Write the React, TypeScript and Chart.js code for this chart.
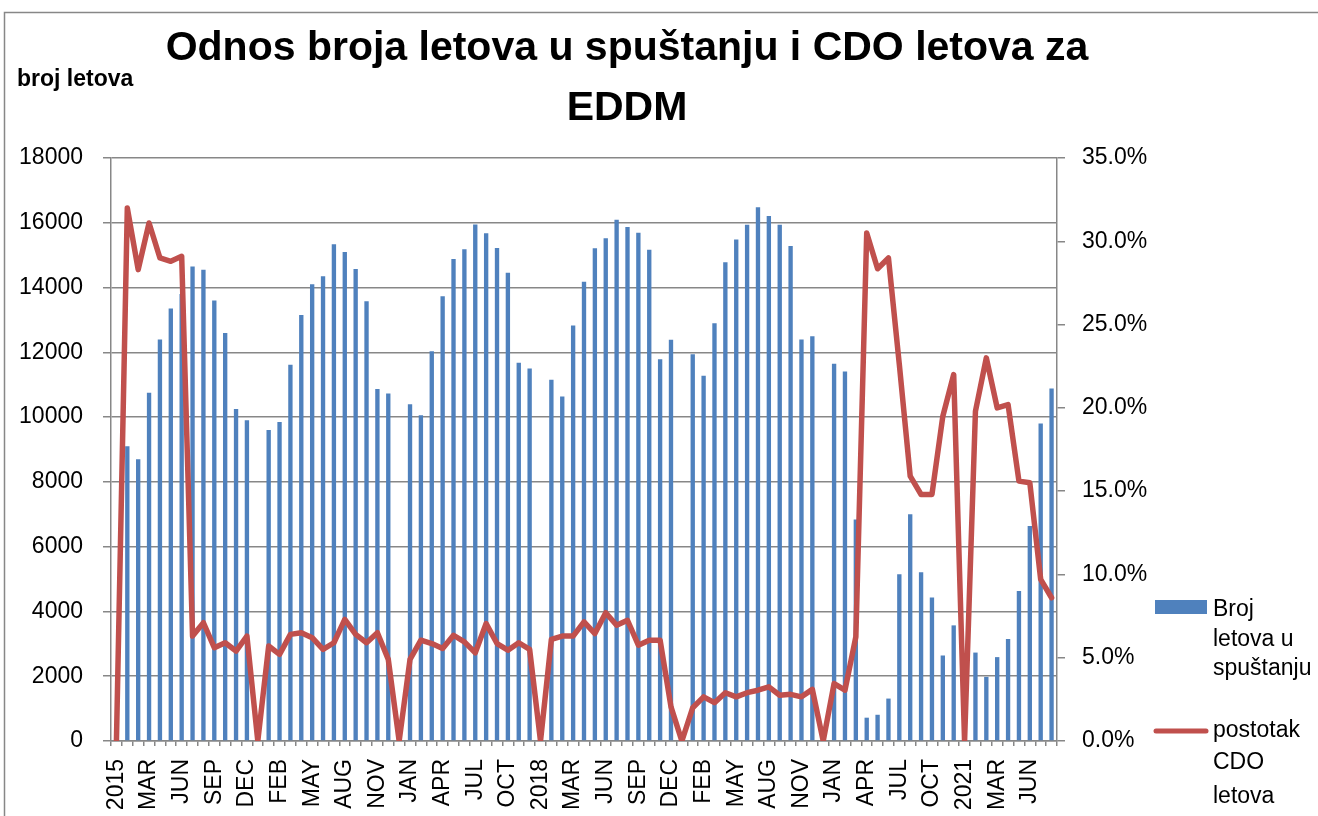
import React, { useEffect, useRef } from 'react';
import { Chart, registerables } from 'chart.js';

Chart.register(...registerables);

const FONT = '"Liberation Sans", Arial, sans-serif';
const GRID = '#878787';
const BAR_COLOR = '#4F81BD';
const LINE_COLOR = '#C0504D';

// ---- categories: each year has a year row followed by its months ----
const YEARS = ['2015', '2016', '2017', '2018', '2019', '2020', '2021'];
const MONTHS = ['JAN', 'FEB', 'MAR', 'APR', 'MAY', 'JUN', 'JUL', 'AUG', 'SEP', 'OCT', 'NOV', 'DEC'];
const MONTHS_PER_YEAR = [12, 12, 12, 12, 12, 12, 8];

// ---- Broj letova u spuštanju (year row first, then months) ----
const descents2015 = [0, 9100, 8700, 10750, 12400, 13350, 13800, 14650, 14550, 13600, 12600, 10250, 9900];
const descents2016 = [0, 9600, 9850, 11620, 13150, 14100, 14350, 15340, 15100, 14570, 13580, 10870, 10730];
const descents2017 = [0, 10400, 10060, 12030, 13730, 14880, 15180, 15950, 15680, 15220, 14460, 11680, 11500];
const descents2018 = [0, 11150, 10640, 12830, 14180, 15210, 15520, 16090, 15870, 15690, 15170, 11790, 12390];
const descents2019 = [0, 11940, 11280, 12900, 14780, 15480, 15940, 16480, 16210, 15940, 15280, 12400, 12500];
const descents2020 = [0, 11650, 11410, 6840, 720, 810, 1310, 5150, 7000, 5210, 4430, 2640, 3570];
const descents2021 = [0, 2730, 1980, 2590, 3150, 4630, 6640, 9800, 10880];

// ---- postotak CDO letova (%) ----
const cdo2015 = [0, 32.0, 28.3, 31.1, 29.0, 28.8, 29.1, 6.3, 7.1, 5.6, 5.9, 5.4, 6.3];
const cdo2016 = [0, 5.7, 5.2, 6.4, 6.5, 6.2, 5.5, 5.9, 7.3, 6.4, 5.9, 6.5, 4.9];
const cdo2017 = [0, 4.9, 6.05, 5.85, 5.55, 6.35, 5.95, 5.3, 7.05, 5.85, 5.45, 5.9, 5.5];
const cdo2018 = [0, 6.1, 6.3, 6.3, 7.15, 6.45, 7.7, 6.95, 7.25, 5.75, 6.05, 6.05, 2.05];
const cdo2019 = [0, 2.0, 2.65, 2.3, 2.9, 2.65, 2.9, 3.05, 3.25, 2.75, 2.8, 2.65, 3.1];
const cdo2020 = [0, 3.45, 3.05, 6.25, 30.5, 28.35, 29.0, 22.6, 15.9, 14.8, 14.8, 19.5, 22.0];
const cdo2021 = [0, 19.8, 23.0, 20.0, 20.2, 15.6, 15.5, 9.7, 8.6];

// ---- texts ----
const TITLE_LINES = ['Odnos broja letova u spuštanju i CDO letova za', 'EDDM'];
const Y_TITLE = 'broj letova';
const BAR_LABEL = 'Broj letova u spuštanju';
const LINE_LABEL = 'postotak CDO letova';
const BAR_LEGEND_LINES = ['Broj', 'letova u', 'spuštanju'];
const LINE_LEGEND_LINES = ['postotak', 'CDO', 'letova'];

const CATEGORIES: string[] = YEARS.flatMap((y, k) => [y, ...MONTHS.slice(0, MONTHS_PER_YEAR[k])]);
const DESCENTS = [
  ...descents2015, ...descents2016, ...descents2017, ...descents2018,
  ...descents2019, ...descents2020, ...descents2021,
];
const CDO = [...cdo2015, ...cdo2016, ...cdo2017, ...cdo2018, ...cdo2019, ...cdo2020, ...cdo2021];

const decorPlugin = {
  id: 'decor',
  beforeDraw(chart: any) {
    const ctx = chart.ctx;
    ctx.save();
    ctx.strokeStyle = GRID;
    ctx.lineWidth = 1.5;
    ctx.strokeRect(4.5, 12.5, 1500, 1000);
    ctx.restore();
  },
  afterDraw(chart: any) {
    const ctx = chart.ctx;
    const ds = chart.data.datasets;
    ctx.save();
    ctx.fillStyle = '#000';
    // title
    ctx.textAlign = 'center';
    ctx.textBaseline = 'alphabetic';
    ctx.font = `bold 41px ${FONT}`;
    ctx.fillText(TITLE_LINES[0], 627, 60);
    ctx.fillText(TITLE_LINES[1], 627, 120);
    // axis title
    ctx.textAlign = 'left';
    ctx.font = `bold 23px ${FONT}`;
    ctx.fillText(Y_TITLE, 17, 86);
    // legend
    ctx.fillStyle = ds[0].backgroundColor;
    ctx.fillRect(1155, 600, 52, 14);
    ctx.strokeStyle = ds[1].borderColor;
    ctx.lineWidth = 5;
    ctx.lineCap = 'round';
    ctx.beginPath();
    ctx.moveTo(1156, 731);
    ctx.lineTo(1206, 731);
    ctx.stroke();
    ctx.fillStyle = '#000';
    ctx.font = `23px ${FONT}`;
    ctx.textBaseline = 'middle';
    const barYs = [610, 640, 669];
    BAR_LEGEND_LINES.forEach((t, i) => ctx.fillText(t, 1213, barYs[i]));
    const lineYs = [731, 763, 797];
    LINE_LEGEND_LINES.forEach((t, i) => ctx.fillText(t, 1213, lineYs[i]));
    ctx.restore();
  },
};

export default function App() {
  const ref = useRef<HTMLCanvasElement>(null);
  useEffect(() => {
    if (!ref.current) return;
    const tickFont = { family: FONT, size: 23 };
    const chart = new Chart(ref.current, {
      type: 'bar',
      data: {
        labels: CATEGORIES,
        datasets: [
          {
            type: 'bar',
            label: BAR_LABEL,
            data: DESCENTS,
            backgroundColor: BAR_COLOR,
            categoryPercentage: 1,
            barPercentage: 0.4,
            yAxisID: 'y',
            order: 2,
          } as any,
          {
            type: 'line',
            label: LINE_LABEL,
            data: CDO,
            borderColor: LINE_COLOR,
            backgroundColor: LINE_COLOR,
            borderWidth: 5.5,
            pointRadius: 0,
            tension: 0,
            borderJoinStyle: 'round',
            borderCapStyle: 'round',
            yAxisID: 'y1',
            order: 1,
          } as any,
        ],
      },
      options: {
        responsive: false,
        animation: false,
        layout: { padding: { top: 158, left: 0, right: 0, bottom: 0 } },
        plugins: {
          legend: { display: false },
          title: { display: false },
          tooltip: { enabled: false },
        },
        scales: {
          x: {
            type: 'category',
            offset: true,
            grid: {
              display: true,
              drawOnChartArea: false,
              drawTicks: true,
              tickLength: 5,
              color: GRID,
              lineWidth: 1.5,
              offset: true,
            },
            border: { display: true, color: GRID, width: 1.5 },
            ticks: {
              autoSkip: false,
              maxRotation: 90,
              minRotation: 90,
              padding: 13,
              color: '#000',
              font: tickFont,
              callback: (_v: any, i: number) => (i % 3 === 0 ? CATEGORIES[i] : ''),
            },
            afterFit: (s: any) => {
              s.height = 75;
            },
          },
          y: {
            position: 'left',
            min: 0,
            max: 18000,
            ticks: {
              stepSize: 2000,
              padding: 20,
              color: '#000',
              font: tickFont,
              callback: (v: any) => String(v),
            },
            grid: { color: GRID, lineWidth: 1.5, tickLength: 8 },
            border: { display: true, color: GRID, width: 1.5 },
            afterFit: (s: any) => {
              s.width = 111;
            },
          },
          y1: {
            position: 'right',
            min: 0,
            max: 35,
            ticks: {
              stepSize: 5,
              padding: 17,
              color: '#000',
              font: tickFont,
              callback: (v: any) => Number(v).toFixed(1) + '%',
            },
            grid: { drawOnChartArea: false, color: GRID, lineWidth: 1.5, tickLength: 8 },
            border: { display: true, color: GRID, width: 1.5 },
            afterFit: (s: any) => {
              s.width = 261;
            },
          },
        },
      } as any,
      plugins: [decorPlugin],
    });
    return () => chart.destroy();
  }, []);

  return (
    <div style={{ position: 'absolute', left: 0, top: 0, width: 1318, height: 816, background: '#fff' }}>
      <canvas ref={ref} width={1318} height={816} style={{ display: 'block', width: 1318, height: 816 }} />
    </div>
  );
}
